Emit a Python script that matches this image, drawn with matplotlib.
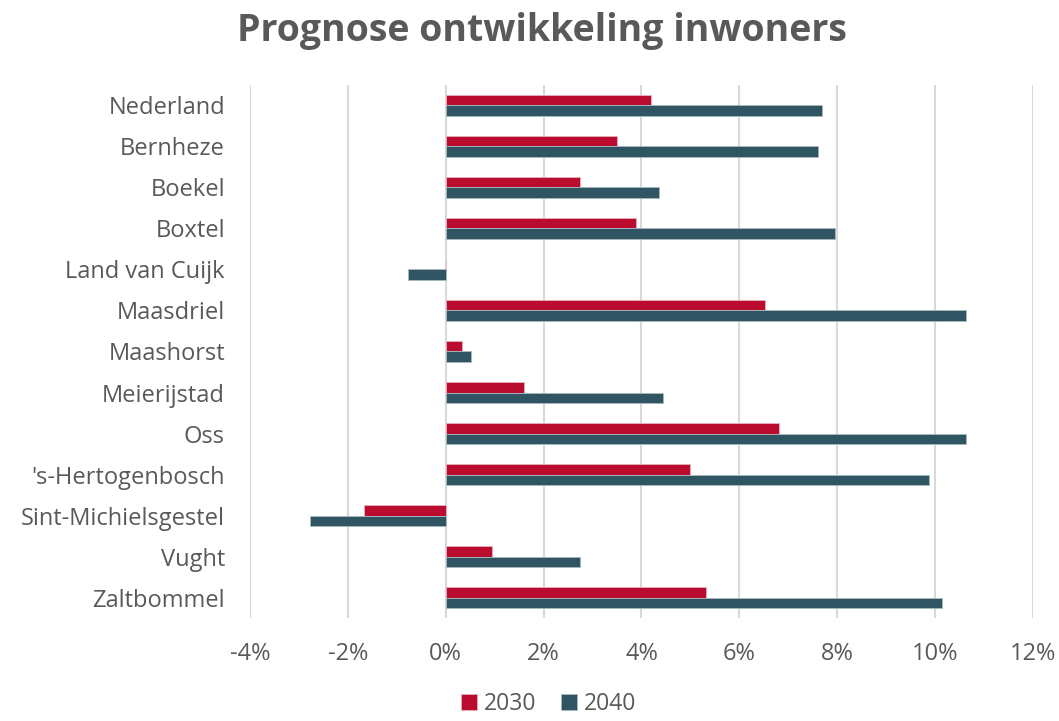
import numpy as np
import matplotlib.pyplot as plt
import matplotlib.ticker as mtick

GEMEENTEN = [
    "Nederland", "Bernheze", "Boekel", "Boxtel", "Land van Cuijk",
    "Maasdriel", "Maashorst", "Meierijstad", "Oss", "'s-Hertogenbosch",
    "Sint-Michielsgestel", "Vught", "Zaltbommel",
]
GROEI_2030 = [4.2, 3.49, 2.74, 3.88, 0.0, 6.53, 0.34, 1.59, 6.80, 5.00, -1.67, 0.95, 5.32]
GROEI_2040 = [7.69, 7.61, 4.36, 7.95, -0.78, 10.63, 0.52, 4.43, 10.63, 9.88, -2.77, 2.75, 10.14]
X_TICKS = [-4, -2, 0, 2, 4, 6, 8, 10, 12]

RED = "#BA0C2F"
TEAL = "#2F5563"
TEXT = "#595959"
GRID = "#D9D9D9"

plt.rcParams["font.family"] = ["Open Sans", "DejaVu Sans"]


def main():
    fig = plt.figure(figsize=(10.59, 7.21), dpi=100)
    ax = fig.add_axes([0.236, 0.1422, 0.7395, 0.7406])

    y = np.arange(len(GEMEENTEN))
    h = 0.255

    ax.barh(y - h / 2, GROEI_2030, height=h, color=RED,
            edgecolor="#E6B3BD", linewidth=0.6, label="2030", zorder=3)
    ax.barh(y + h / 2, GROEI_2040, height=h, color=TEAL,
            edgecolor="#A9BAC0", linewidth=0.6, label="2040", zorder=3)

    ax.set_ylim(len(GEMEENTEN) - 0.5, -0.5)
    ax.set_xlim(X_TICKS[0], X_TICKS[-1])
    ax.set_xticks(X_TICKS)
    ax.xaxis.set_major_formatter(mtick.FuncFormatter(lambda v, _: f"{v:.0f}%"))
    ax.set_yticks(y)
    ax.set_yticklabels(GEMEENTEN)

    ax.tick_params(axis="both", length=0, labelsize=17, labelcolor=TEXT)
    ax.tick_params(axis="y", pad=18)
    ax.tick_params(axis="x", pad=17)

    ax.grid(axis="x", color=GRID, linewidth=1.5, zorder=0)
    ax.set_axisbelow(True)
    for s in ax.spines.values():
        s.set_visible(False)

    fig.suptitle("Prognose ontwikkeling inwoners", x=0.512, y=0.984,
                 fontsize=27, fontweight="bold", color=TEXT, va="top")

    leg = fig.legend(loc="lower center", bbox_to_anchor=(0.518, -0.022), ncol=2,
                     frameon=False, fontsize=16.5, handlelength=0.7,
                     handleheight=0.7, handletextpad=0.3, columnspacing=1.1)
    for t in leg.get_texts():
        t.set_color(TEXT)

    fig.savefig("out.png", dpi=100)
    plt.close(fig)


if __name__ == "__main__":
    main()
